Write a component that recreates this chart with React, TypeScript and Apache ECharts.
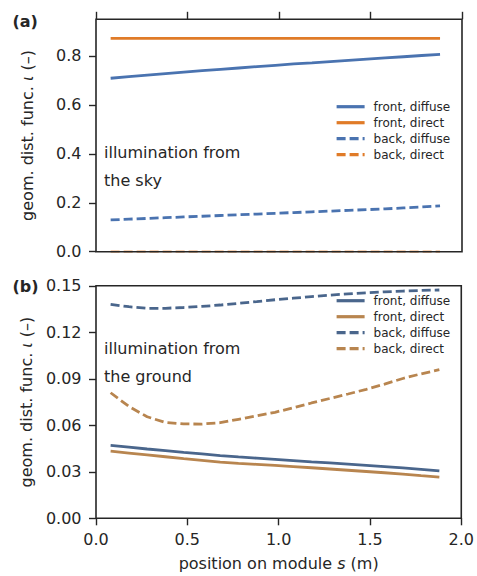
import React, { useEffect, useRef } from "react";
import * as echarts from "echarts";

// positions along the module (m)
const positions = [0.08, 0.18, 0.28, 0.38, 0.48, 0.58, 0.68, 0.78, 0.88, 0.98, 1.08, 1.18, 1.28, 1.38, 1.48, 1.58, 1.68, 1.78, 1.88];

// (a) illumination from the sky
const skyFrontDiffuse = [0.709, 0.7155, 0.722, 0.728, 0.734, 0.74, 0.7455, 0.751, 0.7565, 0.762, 0.7675, 0.772, 0.777, 0.782, 0.787, 0.792, 0.797, 0.802, 0.807];
const skyFrontDirect = [0.872, 0.872, 0.872, 0.872, 0.872, 0.872, 0.872, 0.872, 0.872, 0.872, 0.872, 0.872, 0.872, 0.872, 0.872, 0.872, 0.872, 0.872, 0.872];
const skyBackDiffuse = [0.13, 0.133, 0.136, 0.139, 0.142, 0.145, 0.148, 0.151, 0.154, 0.157, 0.16, 0.163, 0.166, 0.169, 0.172, 0.175, 0.179, 0.183, 0.187];
const skyBackDirect = [0, 0, 0, 0, 0, 0, 0, 0, 0, 0, 0, 0, 0, 0, 0, 0, 0, 0, 0];

// (b) illumination from the ground
const groundFrontDiffuse = [0.0471, 0.0459, 0.0447, 0.0436, 0.0425, 0.0415, 0.0405, 0.0396, 0.0388, 0.038, 0.0372, 0.0364, 0.0357, 0.035, 0.0342, 0.0334, 0.0325, 0.0316, 0.0306];
const groundFrontDirect = [0.0433, 0.0421, 0.0409, 0.0397, 0.0385, 0.0374, 0.0363, 0.0355, 0.0348, 0.0341, 0.0334, 0.0326, 0.0318, 0.031, 0.0302, 0.0294, 0.0285, 0.0275, 0.0266];
const groundBackDiffuse = [0.138, 0.1365, 0.1355, 0.1355, 0.136, 0.1367, 0.1376, 0.1387, 0.1398, 0.141, 0.142, 0.143, 0.144, 0.1448, 0.1455, 0.1461, 0.1466, 0.147, 0.1473];
const groundBackDirect = [0.081, 0.0722, 0.0655, 0.0618, 0.0609, 0.0608, 0.0617, 0.0639, 0.0661, 0.0684, 0.0713, 0.0744, 0.0773, 0.0802, 0.0832, 0.0866, 0.0902, 0.0932, 0.0959];

const seriesNames = ["front, diffuse", "front, direct", "back, diffuse", "back, direct"];
const xTicks = [0, 0.5, 1.0, 1.5, 2.0];
const skyTicks = [0, 0.2, 0.4, 0.6, 0.8];
const groundTicks = [0, 0.03, 0.06, 0.09, 0.12, 0.15];

const INK = "#262626";
const FONT = "DejaVu Sans";
const SKY_BLUE = "#4a73b0";
const SKY_ORANGE = "#e07b28";
const GROUND_BLUE = "#4a668c";
const GROUND_BROWN = "#b8854f";
const DASH = [9, 4];
const LINE_W = 2.8;

const pairs = (ys: number[]) => positions.map((s, i) => [s, ys[i]]);

export default function App() {
  const ref = useRef<HTMLDivElement>(null);

  useEffect(() => {
    if (!ref.current) return;
    const chart = echarts.init(ref.current, null, { renderer: "svg" });

    const gridA = { left: 96, top: 19.3, width: 366, height: 232.4 };
    const gridB = { left: 96, top: 285.8, width: 366, height: 232.5 };

    const mkLine = (
      key: string,
      idx: number,
      data: number[],
      color: string,
      dashed: boolean,
      opacity = 1
    ) => ({
      type: "line",
      name: key,
      xAxisIndex: idx,
      yAxisIndex: idx,
      data: pairs(data),
      symbol: "none",
      showSymbol: false,
      clip: true,
      lineStyle: { color, width: LINE_W, type: dashed ? DASH : "solid", cap: "butt", opacity },
      itemStyle: { color },
      z: 3,
    });

    const yName = "geom. dist. func. {i|ι} (–)";
    const nameStyle = {
      fontSize: 16,
      color: INK,
      fontFamily: FONT,
      rich: { i: { fontStyle: "italic", fontSize: 16, color: INK, fontFamily: FONT } },
    };

    const labelStyle = { fontSize: 16, color: INK, fontFamily: FONT };
    const tickStyle = { show: true, inside: false, length: 7, lineStyle: { color: INK, width: 1.4 } };

    const legendBase = {
      orient: "vertical",
      left: 335,
      itemWidth: 28,
      itemHeight: 14,
      itemGap: 4,
      padding: 0,
      selectedMode: false,
      itemStyle: { opacity: 0, color: "transparent", borderWidth: 0 },
      lineStyle: { width: 3.2, opacity: 1 },
      formatter: (n: string) => n.slice(2),
      textStyle: { fontSize: 12, color: INK, fontFamily: FONT, padding: [0, 0, 0, 4] },
    };

    const legendData = (prefix: string) => seriesNames.map((n) => prefix + n);

    const option = {
      animation: false,
      backgroundColor: "#ffffff",
      grid: [
        { ...gridA, show: true, borderColor: INK, borderWidth: 1.6, backgroundColor: "transparent", z: 4 },
        { ...gridB, show: true, borderColor: INK, borderWidth: 1.6, backgroundColor: "transparent", z: 4 },
      ],
      xAxis: [
        {
          type: "value",
          gridIndex: 0,
          position: "top",
          min: xTicks[0],
          max: xTicks[xTicks.length - 1],
          interval: 0.5,
          axisLine: { show: false, onZero: false },
          axisTick: { ...tickStyle, length: 7.5 },
          axisLabel: { show: false },
          splitLine: { show: false },
        },
        {
          type: "value",
          gridIndex: 1,
          position: "bottom",
          min: xTicks[0],
          max: xTicks[xTicks.length - 1],
          interval: 0.5,
          axisLine: { show: false, onZero: false },
          axisTick: tickStyle,
          axisLabel: { ...labelStyle, margin: 13, formatter: (v: number) => v.toFixed(1) },
          splitLine: { show: false },
          name: "position on module {i|s} (m)",
          nameLocation: "middle",
          nameGap: 37,
          nameTextStyle: nameStyle,
        },
      ],
      yAxis: [
        {
          type: "value",
          gridIndex: 0,
          min: skyTicks[0],
          max: 0.95,
          interval: 0.2,
          axisLine: { show: false, onZero: false },
          axisTick: tickStyle,
          axisLabel: { ...labelStyle, margin: 14.5, showMaxLabel: false, formatter: (v: number) => v.toFixed(1) },
          splitLine: { show: false },
          name: yName,
          nameLocation: "middle",
          nameGap: 61,
          nameTextStyle: nameStyle,
        },
        {
          type: "value",
          gridIndex: 1,
          min: groundTicks[0],
          max: groundTicks[groundTicks.length - 1],
          interval: 0.03,
          axisLine: { show: false, onZero: false },
          axisTick: tickStyle,
          axisLabel: { ...labelStyle, margin: 14.5, formatter: (v: number) => v.toFixed(2) },
          splitLine: { show: false },
          name: yName,
          nameLocation: "middle",
          nameGap: 61,
          nameTextStyle: nameStyle,
        },
      ],
      legend: [
        { ...legendBase, top: 100.7, data: legendData("a:") },
        { ...legendBase, top: 294.7, data: legendData("b:") },
      ],
      graphic: [
        { type: "text", left: 12.5, top: 13, style: { text: "(a)", fontSize: 16, fontWeight: "bold", fill: INK, fontFamily: FONT } },
        { type: "text", left: 12.5, top: 278.5, style: { text: "(b)", fontSize: 16, fontWeight: "bold", fill: INK, fontFamily: FONT } },
        { type: "text", left: 104, top: 144, style: { text: "illumination from", fontSize: 16, fill: INK, fontFamily: FONT } },
        { type: "text", left: 104, top: 172, style: { text: "the sky", fontSize: 16, fill: INK, fontFamily: FONT } },
        { type: "text", left: 104, top: 340, style: { text: "illumination from", fontSize: 16, fill: INK, fontFamily: FONT } },
        { type: "text", left: 104, top: 368, style: { text: "the ground", fontSize: 16, fill: INK, fontFamily: FONT } },
      ],
      series: [
        mkLine("a:" + seriesNames[0], 0, skyFrontDiffuse, SKY_BLUE, false),
        mkLine("a:" + seriesNames[1], 0, skyFrontDirect, SKY_ORANGE, false),
        mkLine("a:" + seriesNames[2], 0, skyBackDiffuse, SKY_BLUE, true),
        // lies on the lower spine, so it shows only as a faint band
        mkLine("a:" + seriesNames[3], 0, skyBackDirect, SKY_ORANGE, true, 0.45),
        mkLine("b:" + seriesNames[0], 1, groundFrontDiffuse, GROUND_BLUE, false),
        mkLine("b:" + seriesNames[1], 1, groundFrontDirect, GROUND_BROWN, false),
        mkLine("b:" + seriesNames[2], 1, groundBackDiffuse, GROUND_BLUE, true),
        mkLine("b:" + seriesNames[3], 1, groundBackDirect, GROUND_BROWN, true),
      ],
    };

    chart.setOption(option as any);
    return () => chart.dispose();
  }, []);

  return (
    <div
      ref={ref}
      style={{ position: "absolute", left: 0, top: 0, width: 477, height: 576 }}
    />
  );
}
